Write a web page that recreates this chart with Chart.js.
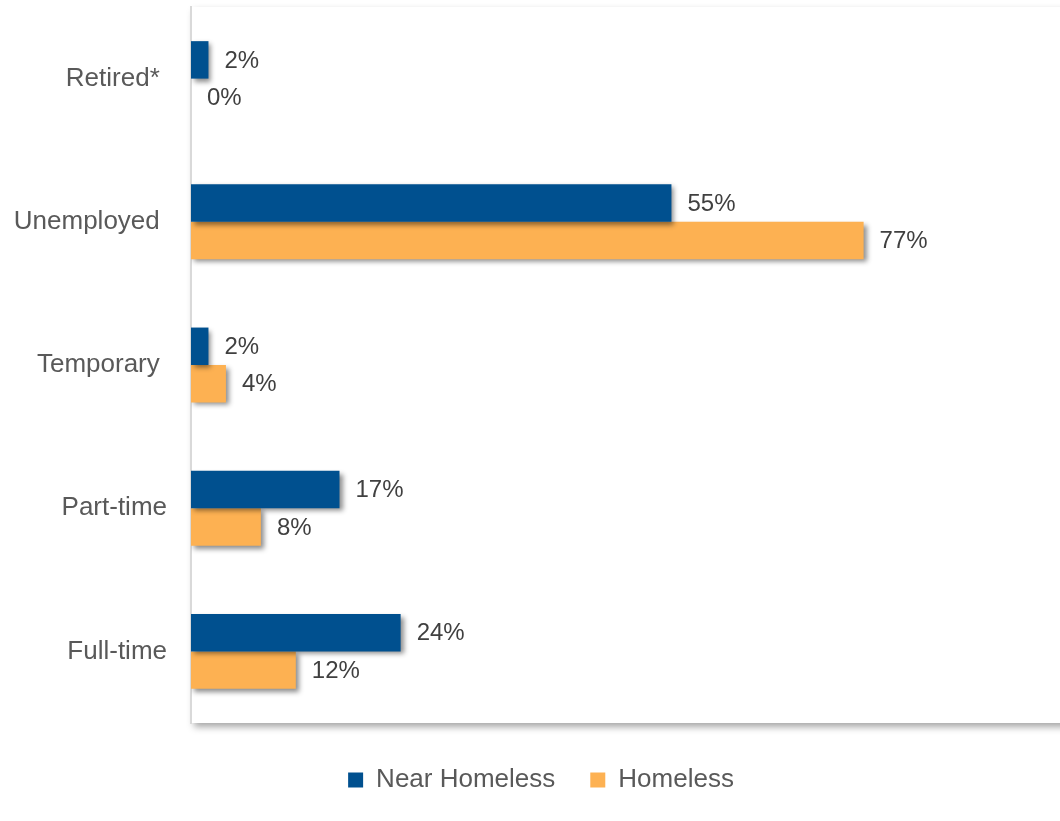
<!DOCTYPE html>
<html>
<head>
<meta charset="utf-8">
<script src="https://cdn.jsdelivr.net/npm/chart.js@4/dist/chart.umd.min.js"></script>
<style>
  html, body { margin: 0; padding: 0; background: #fff; overflow: hidden; }
  #wrap { width: 1082px; height: 821px; position: relative; }
</style>
</head>
<body>
<div id="wrap"><canvas id="c"></canvas></div>
<script>
const categories = ['Retired* ', 'Unemployed ', 'Temporary ', 'Part-time', 'Full-time'];
const nearHomeless = [2, 55, 2, 17, 24];
const homeless = [0, 77, 4, 8, 12];
const seriesNames = ['Near Homeless', 'Homeless'];
const seriesColors = ['#00508F', '#FDB152'];

const FONT = "'Liberation Sans', Arial, sans-serif";

const plotBg = {
  id: 'plotBg',
  beforeDraw(chart) {
    const {ctx, chartArea: a} = chart;
    ctx.save();
    ctx.shadowColor = 'rgba(0,0,0,0.35)';
    ctx.shadowBlur = 7;
    ctx.shadowOffsetX = 3;
    ctx.shadowOffsetY = 4;
    ctx.fillStyle = '#fff';
    ctx.fillRect(a.left, a.top, a.right - a.left + 20, a.bottom - a.top);
    ctx.restore();
  }
};

const barShadow = {
  id: 'barShadow',
  beforeDatasetsDraw(chart) {
    const ctx = chart.ctx;
    ctx.save();
    ctx.shadowColor = 'rgba(0,0,0,0.45)';
    ctx.shadowBlur = 5;
    ctx.shadowOffsetX = 3;
    ctx.shadowOffsetY = 3;
  },
  afterDatasetsDraw(chart) {
    chart.ctx.restore();
  }
};

const valueLabels = {
  id: 'valueLabels',
  afterDatasetsDraw(chart) {
    const ctx = chart.ctx;
    ctx.save();
    ctx.font = '24px ' + FONT;
    ctx.fillStyle = '#404040';
    ctx.textAlign = 'left';
    ctx.textBaseline = 'middle';
    chart.data.datasets.forEach((ds, di) => {
      const meta = chart.getDatasetMeta(di);
      meta.data.forEach((bar, i) => {
        ctx.fillText(ds.data[i] + '%', bar.x + 16, bar.y + 1);
      });
    });
    ctx.restore();
  }
};

new Chart(document.getElementById('c'), {
  type: 'bar',
  data: {
    labels: categories,
    datasets: [
      { label: seriesNames[0], data: nearHomeless, backgroundColor: seriesColors[0], borderWidth: 0 },
      { label: seriesNames[1], data: homeless, backgroundColor: seriesColors[1], borderWidth: 0 }
    ]
  },
  options: {
    indexAxis: 'y',
    responsive: true,
    maintainAspectRatio: false,
    animation: false,
    datasets: { bar: { categoryPercentage: 0.523, barPercentage: 1.0 } },
    layout: { padding: { top: 7, bottom: 18, left: 0, right: 0 } },
    scales: {
      x: {
        min: 0, max: 102,
        grid: { display: false, drawTicks: false },
        border: { display: false },
        ticks: { display: false },
        afterFit(scale) { scale.height = 9; scale.paddingLeft = 0; scale.paddingRight = 0; }
      },
      y: {
        grid: { display: false, drawTicks: false },
        border: { display: true, color: '#D9D9D9', width: 2 },
        ticks: { color: '#595959', font: { family: FONT, size: 26 }, padding: 24 },
        afterFit(scale) { scale.width = 191; scale.paddingTop = 0; scale.paddingBottom = 0; }
      }
    },
    plugins: {
      legend: {
        position: 'bottom',
        labels: {
          color: '#595959',
          font: { family: FONT, size: 26 },
          boxWidth: 15, boxHeight: 15,
          padding: 35
        }
      },
      tooltip: { enabled: false }
    }
  },
  plugins: [plotBg, barShadow, valueLabels]
});
</script>
</body>
</html>
